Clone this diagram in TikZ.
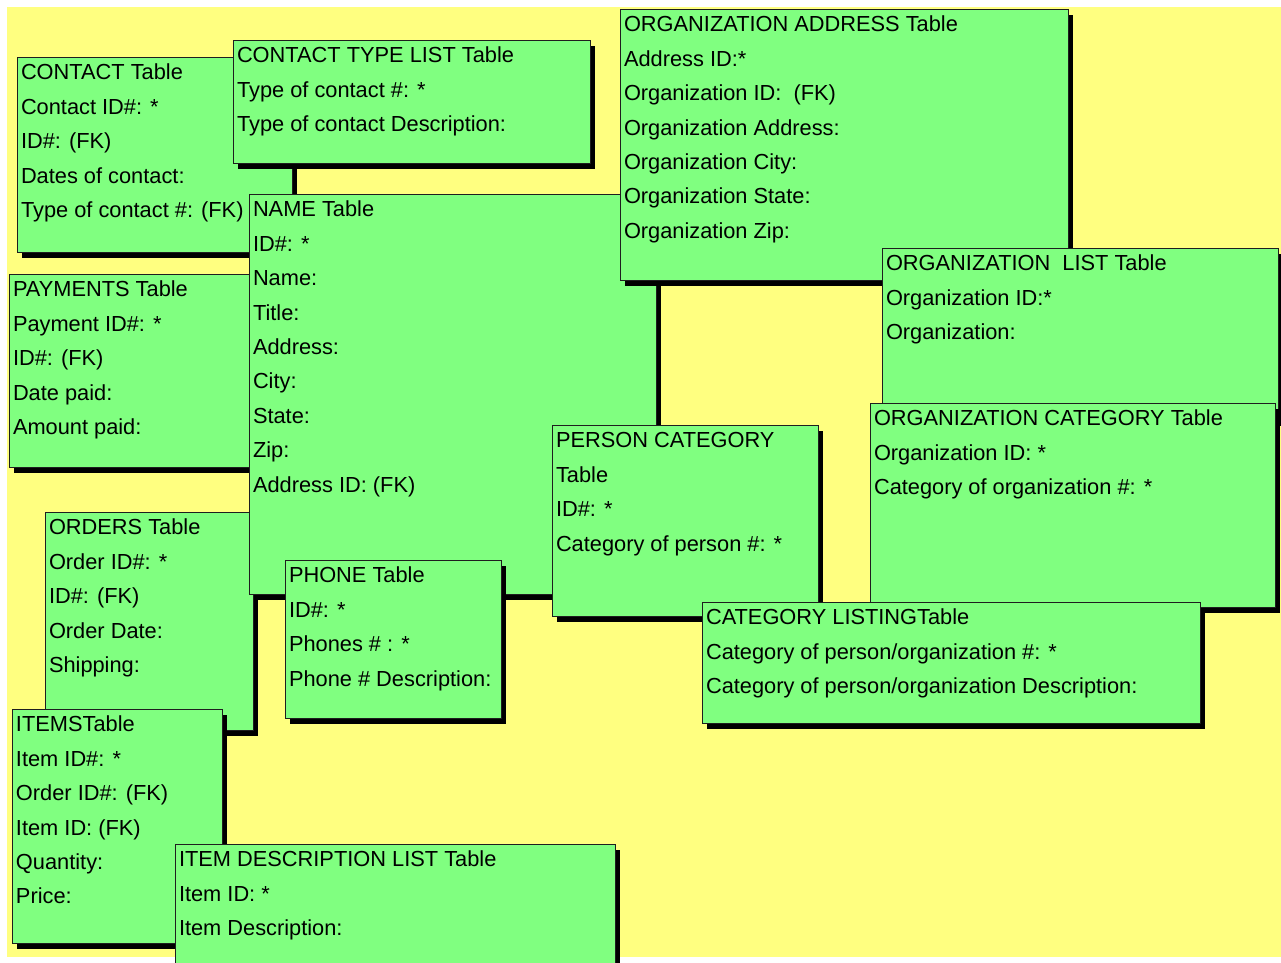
\documentclass[tikz,border=0pt]{standalone}
\usepackage{fontspec}
\setmainfont{Liberation Sans}
\usetikzlibrary{shadows}
\definecolor{tgreen}{RGB}{128,255,128}
\definecolor{tyellow}{RGB}{255,255,128}
\definecolor{tborder}{RGB}{30,30,30}
\newcommand\rowsbox[1]{\vtop{\baselineskip=34.4pt\lineskiplimit=-1000pt\lineskip=0pt\relax #1}}
\newcommand\tbox[6]{%
  \node[tbl, minimum width={(#4-#2)*1pt}, minimum height={(#5-#3)*1pt}] (#1) at (#2,#3) {};
  \node[txt] (#1-t) at ([shift={(4,22.8)}]#1.north west) {\rowsbox{#6}};
}
\begin{document}
\begin{tikzpicture}[x=1pt,y=-1pt,
  tbl/.style={rectangle, draw=tborder, line width=1pt, fill=tgreen, inner sep=0pt, outer sep=0pt, anchor=north west,
    drop shadow={shadow xshift=5pt, shadow yshift=-6pt, fill=black, opacity=1, draw=none}},
  txt/.style={anchor=base west, inner sep=0pt, outer sep=0pt, font=\fontsize{21.8}{34.4}\selectfont}]
\useasboundingbox (0,0) rectangle (1281,962);
\clip (0,0) rectangle (1281,962);
\fill[white] (0,0) rectangle (1281,962);
\fill[tyellow] (7,7) rectangle (1281,957);

\tbox{contact}{17}{57}{292}{252}{\hbox{CONTACT Table}\hbox{Contact ID\#: *}\hbox{ID\#: (FK)}\hbox{Dates of contact:}\hbox{Type of contact \#: (FK)}}
\tbox{ctype}{233}{40}{590}{163}{\hbox{CONTACT TYPE LIST Table}\hbox{Type of contact \#: *}\hbox{Type of contact Description:}}
\tbox{payments}{9}{274}{280}{467}{\hbox{PAYMENTS Table}\hbox{Payment ID\#: *}\hbox{ID\#: (FK)}\hbox{Date paid:}\hbox{Amount paid:}}
\tbox{orders}{45}{512}{253}{730}{\hbox{ORDERS Table}\hbox{Order ID\#: *}\hbox{ID\#: (FK)}\hbox{Order Date:}\hbox{Shipping:}}
\tbox{items}{12}{709}{222}{943}{\hbox{ITEMSTable}\hbox{Item ID\#: *}\hbox{Order ID\#: (FK)}\hbox{Item ID: (FK)}\hbox{Quantity:}\hbox{Price:}}
\tbox{itemdesc}{175}{844}{615}{975}{\hbox{ITEM DESCRIPTION LIST Table}\hbox{Item ID: *}\hbox{Item Description:}}
\tbox{name}{249}{194}{656}{594}{\hbox{NAME Table}\hbox{ID\#: *}\hbox{Name:}\hbox{Title:}\hbox{Address:}\hbox{City:}\hbox{State:}\hbox{Zip:}\hbox{Address ID: (FK)}}
\tbox{phone}{285}{560}{501}{718}{\hbox{PHONE Table}\hbox{ID\#: *}\hbox{Phones \# : *}\hbox{Phone \# Description:}}
\tbox{orgaddr}{620}{9}{1068}{280}{\hbox{ORGANIZATION ADDRESS Table}\hbox{Address ID:*}\hbox{Organization ID:\ \ (FK)}\hbox{Organization Address:}\hbox{Organization City:}\hbox{Organization State:}\hbox{Organization Zip:}}
\tbox{orglist}{882}{248}{1278}{420}{\hbox{ORGANIZATION\ \ LIST Table}\hbox{Organization ID:*}\hbox{Organization:}}
\tbox{orgcat}{870}{403}{1275}{607}{\hbox{ORGANIZATION CATEGORY Table}\hbox{Organization ID: *}\hbox{Category of organization \#: *}}
\tbox{personcat}{552}{425}{818}{616}{\hbox{PERSON CATEGORY}\hbox{Table}\hbox{ID\#: *}\hbox{Category of person \#: *}}
\tbox{catlist}{702}{602}{1200}{723}{\hbox{CATEGORY LISTINGTable}\hbox{Category of person/organization \#: *}\hbox{Category of person/organization Description:}}
\end{tikzpicture}
\end{document}
